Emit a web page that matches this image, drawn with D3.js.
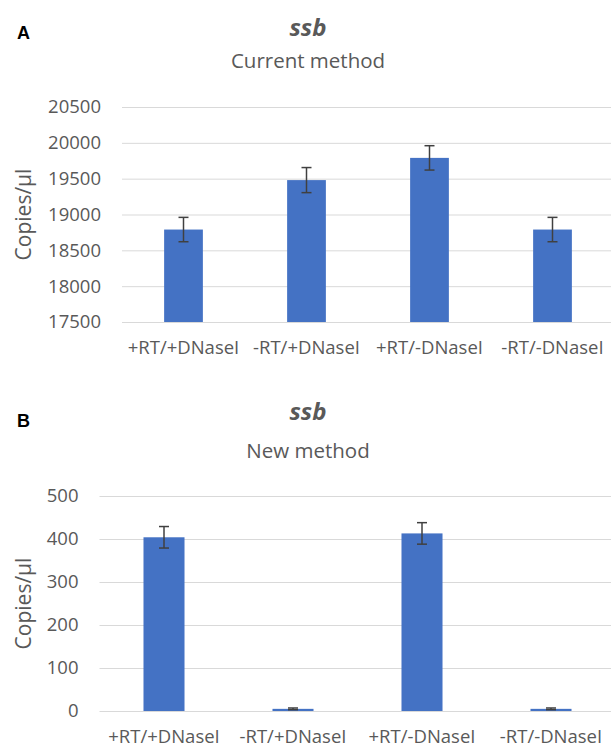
<!DOCTYPE html>
<html>
<head>
<meta charset="utf-8">
<script src="https://cdn.jsdelivr.net/npm/d3@7"></script>
<style>
  body { margin: 0; background: #fff; }
</style>
</head>
<body>
<script>
// data
const categories = ["+RT/+DNaseI", "-RT/+DNaseI", "+RT/-DNaseI", "-RT/-DNaseI"];

const currentValues = [18790, 19480, 19790, 18790];
const currentErrors = [170, 175, 170, 170];
const currentTicks = [17500, 18000, 18500, 19000, 19500, 20000, 20500];

const newValues = [404, 5, 413, 5];
const newErrors = [25, 2, 25, 2];
const newTicks = [0, 100, 200, 300, 400, 500];

let canvasW = 611;
let canvasH = 749;

let svg = d3.select("body")
  .append("svg")
    .attr("width", canvasW)
    .attr("height", canvasH)
    .style("background-color", "#fff");

const font = "'Open Sans', sans-serif";
const grey = "#595959";

function drawPanel(p) {
  let xScale = d3.scaleBand()
    .domain(categories)
    .range([p.left, p.right])
    .paddingInner(p.pad)
    .paddingOuter(p.pad / 2);

  let yScale = d3.scaleLinear()
    .domain([p.ticks[0], p.ticks[p.ticks.length - 1]])
    .range([p.bottom, p.top]);

  // gridlines + tick labels
  const yAxis = svg.append("g")
    .attr("transform", "translate(" + p.left + ",0)")
    .call(d3.axisLeft(yScale)
      .tickValues(p.ticks)
      .tickSize(-(canvasW - p.left))
      .tickPadding(21)
      .tickFormat(d3.format("d")));
  yAxis.select(".domain").remove();
  yAxis.selectAll("line").attr("stroke", "#d9d9d9").attr("stroke-width", 1);
  yAxis.selectAll("text")
    .attr("font-family", font)
    .attr("font-size", "18.5px")
    .attr("fill", grey);

  // bars
  svg.append("g").selectAll("rect")
    .data(p.values)
    .enter()
    .append("rect")
      .attr("x", (d, i) => xScale(categories[i]))
      .attr("y", d => yScale(d))
      .attr("width", xScale.bandwidth())
      .attr("height", d => p.bottom - yScale(d))
      .attr("fill", "#4472C4");

  // error bars
  let err = svg.append("g").selectAll("g")
    .data(p.values)
    .enter()
    .append("g")
      .attr("stroke", "#404040")
      .attr("stroke-width", 1.5);
  const cx = (i) => xScale(categories[i]) + xScale.bandwidth() / 2;
  err.append("line")
    .attr("x1", (d, i) => cx(i)).attr("x2", (d, i) => cx(i))
    .attr("y1", (d, i) => yScale(d + p.errors[i]))
    .attr("y2", (d, i) => yScale(d - p.errors[i]));
  err.append("line")
    .attr("x1", (d, i) => cx(i) - 5).attr("x2", (d, i) => cx(i) + 5)
    .attr("y1", (d, i) => yScale(d + p.errors[i]))
    .attr("y2", (d, i) => yScale(d + p.errors[i]));
  err.append("line")
    .attr("x1", (d, i) => cx(i) - 5).attr("x2", (d, i) => cx(i) + 5)
    .attr("y1", (d, i) => yScale(d - p.errors[i]))
    .attr("y2", (d, i) => yScale(d - p.errors[i]));

  // category labels
  const xAxis = svg.append("g")
    .attr("transform", "translate(0," + p.bottom + ")")
    .call(d3.axisBottom(xScale).tickSize(0).tickPadding(19));
  xAxis.select(".domain").remove();
  xAxis.selectAll("text")
    .attr("font-family", font)
    .attr("font-size", "18.5px")
    .attr("fill", grey);

  // y axis title
  svg.append("text")
    .attr("text-anchor", "middle")
    .attr("font-family", font)
    .attr("font-size", "21px")
    .attr("fill", grey)
    .attr("transform", "translate(31," + ((p.top + p.bottom) / 2) + ") rotate(-90)")
    .text("Copies/\u00b5l");

  // panel letter
  svg.append("text")
    .attr("x", 17)
    .attr("y", p.letterY)
    .attr("font-family", "'Liberation Sans', Arial, sans-serif")
    .attr("font-weight", "bold")
    .attr("font-size", "18px")
    .attr("fill", "#000")
    .text(p.letter);

  // titles
  svg.append("text")
    .attr("x", 308)
    .attr("y", p.titleY)
    .attr("text-anchor", "middle")
    .attr("font-family", font)
    .attr("font-weight", "bold")
    .attr("font-style", "italic")
    .attr("font-size", "24px")
    .attr("fill", grey)
    .text("ssb");

  svg.append("text")
    .attr("x", 308)
    .attr("y", p.subY)
    .attr("text-anchor", "middle")
    .attr("font-family", font)
    .attr("font-size", "20.5px")
    .attr("fill", grey)
    .text(p.subtitle);
}

drawPanel({
  values: currentValues, errors: currentErrors, ticks: currentTicks,
  left: 122, right: 614, top: 107, bottom: 322, pad: 0.685,
  letter: "A", letterY: 39, titleY: 36, subY: 68, subtitle: "Current method"
});

drawPanel({
  values: newValues, errors: newErrors, ticks: newTicks,
  left: 99.5, right: 615.5, top: 496, bottom: 711, pad: 0.682,
  letter: "B", letterY: 427, titleY: 420, subY: 458, subtitle: "New method"
});
</script>
</body>
</html>
